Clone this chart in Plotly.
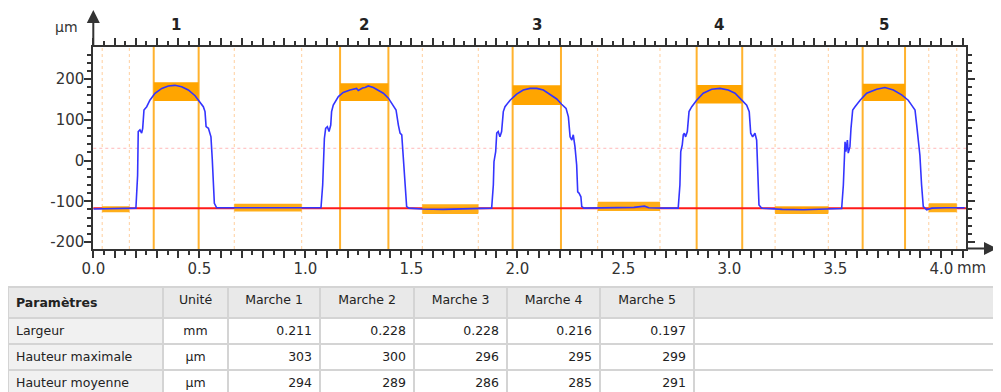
import plotly.graph_objects as go
import numpy as np

# ---------------- data ----------------
# measured profile (mm, µm)
profile_x = [0.000, 0.100, 0.190, 0.201, 0.209, 0.212, 0.220, 0.228, 0.233, 0.239, 0.252, 0.267, 0.291,
             0.323, 0.354, 0.385, 0.417, 0.448, 0.480, 0.503, 0.519, 0.527, 0.532, 0.543, 0.555,
             0.561, 0.566, 0.571, 0.582, 0.700, 0.800, 0.900, 1.000, 1.074,
             1.082, 1.085, 1.090, 1.096, 1.104, 1.112, 1.120, 1.124, 1.132, 1.156, 1.179, 1.211,
             1.242, 1.250, 1.258, 1.270, 1.282, 1.297, 1.321, 1.344, 1.368, 1.392, 1.415, 1.428,
             1.439, 1.447, 1.455, 1.462, 1.470, 1.478, 1.489, 1.550, 1.650, 1.750, 1.879,
             1.887, 1.890, 1.898, 1.903, 1.910, 1.918, 1.926, 1.934, 1.942, 1.966, 1.997, 2.028,
             2.060, 2.092, 2.123, 2.154, 2.186, 2.209, 2.230, 2.241, 2.249, 2.257, 2.264, 2.272,
             2.280, 2.285, 2.291, 2.300, 2.304, 2.315, 2.450, 2.550, 2.600, 2.620, 2.700, 2.759,
             2.767, 2.771, 2.778, 2.783, 2.788, 2.794, 2.802, 2.810, 2.823, 2.846, 2.877, 2.917,
             2.956, 2.995, 3.027, 3.058, 3.082, 3.094, 3.101, 3.110, 3.121, 3.129, 3.134, 3.140,
             3.153, 3.250, 3.350, 3.450, 3.530,
             3.538, 3.542, 3.546, 3.550, 3.557, 3.561, 3.569, 3.574, 3.582, 3.593, 3.617, 3.648,
             3.695, 3.734, 3.774, 3.813, 3.844, 3.860, 3.876, 3.884, 3.892, 3.899, 3.907, 3.915,
             3.931, 3.955, 4.020, 4.110]
profile_y = [-119, -118, -117, -117, -36, 71, 75, 67, 79, 124, 132, 148, 165,
             177, 183, 184.5, 181, 173, 159, 144, 132, 120, 83, 79, 58,
             5, -60, -105, -116, -117, -116, -116, -117, -116,
             -60, 5, 54, 79, 83, 71, 87, 120, 136, 157, 167, 173,
             177, 172, 175, 178, 179, 183, 179, 173, 165, 153, 136, 124,
             87, 67, 63, 13, -60, -113, -117, -119, -120, -119, -117,
             -60, -3, 22, 67, 71, 58, 71, 120, 132, 148, 163, 173,
             177, 177, 173, 163, 151, 138, 128, 107, 58, 50, 63, 34,
             -11, -77, -80, -89, -113, -117, -116, -115, -112, -116, -117, -117,
             -60, 22, 38, 63, 67, 58, 71, 120, 132, 148, 165, 175,
             177, 173, 165, 148, 136, 120, 67, 58, 67, 50, -36, -109,
             -117, -120, -121, -120, -118,
             -60, 5, 46, 22, 50, 18, 34, 79, 124, 132, 148, 165,
             175, 179, 173, 161, 148, 136, 124, 87, 46, 13, -60, -113,
             -121, -117, -116, -116]

# step boundaries (mm) and step bands (µm)
step_left = [0.285, 1.164, 1.978, 2.846, 3.629]
step_right = [0.497, 1.392, 2.206, 3.061, 3.829]
step_band_low = [146, 146, 136, 140, 146]
step_band_high = [192, 189.5, 184.5, 185, 188.5]
step_names = ["1", "2", "3", "4", "5"]

# base reference zones (mm) and bands (µm)
base_left = [0.042, 0.665, 1.552, 2.379, 3.216, 3.941]
base_right = [0.170, 0.983, 1.816, 2.673, 3.467, 4.073]
base_band_low = [-127, -125, -131, -124, -131, -127]
base_band_high = [-112, -106, -107.5, -101, -112, -105]

reference_level = -117
upper_threshold = 30

# ticks
x_tick_values = [round(v, 1) for v in np.arange(0, 4.15, 0.1)]
x_tick_labels = [f"{v:.1f}" if abs(v * 2 - round(v * 2)) < 1e-9 else "" for v in x_tick_values]
y_tick_values = [-200, -100, 0, 100, 200]
y_tick_labels = ["-200", "-100", "0", "100", "200"]

# table
table_header = ["<b>Paramètres</b>", "Unité", "Marche 1", "Marche 2", "Marche 3", "Marche 4", "Marche 5", ""]
param_names = ["Largeur", "Hauteur maximale", "Hauteur moyenne"]
param_units = ["mm", "µm", "µm"]
step_widths = ["0.211", "0.228", "0.228", "0.216", "0.197"]
step_max_heights = ["303", "300", "296", "295", "299"]
step_mean_heights = ["294", "289", "286", "285", "291"]

# ---------------- layout geometry (page pixels) ----------------
W, H = 1001, 392
OFF = 8  # page body margin
PL, PR, PT, PB = 93.3, 966.0, 46.7, 249.0
X_RANGE = [0, 4.1165]
Y_RANGE = [-217.2, 279.3]


def px(x):
    return (x - OFF) / W


def py(y):
    return 1 - (y - OFF) / H


FONT = "DejaVu Sans"
AXIS_COL = "#333333"
ORANGE = "#ffa500"
ORANGE_LINE = "#ffb22e"
ORANGE_DOT = "#ffcf9e"

fig = go.Figure()

shapes = []
for xv in base_left + base_right:
    shapes.append(dict(type="line", xref="x", yref="y domain", x0=xv, x1=xv, y0=0, y1=1,
                       line=dict(color=ORANGE_DOT, width=1, dash="dot"), layer="below"))
shapes.append(dict(type="line", xref="x domain", yref="y", x0=0, x1=1, y0=upper_threshold, y1=upper_threshold,
                   line=dict(color="#ffb8b8", width=1, dash="dot"), layer="below"))
for l, r, lo, hi in zip(base_left, base_right, base_band_low, base_band_high):
    shapes.append(dict(type="rect", xref="x", yref="y", x0=l, x1=r, y0=lo, y1=hi,
                       fillcolor=ORANGE, line=dict(width=0), opacity=0.9, layer="below"))
for l, r, lo, hi in zip(step_left, step_right, step_band_low, step_band_high):
    shapes.append(dict(type="rect", xref="x", yref="y", x0=l, x1=r, y0=lo, y1=hi,
                       fillcolor=ORANGE, line=dict(width=0), layer="below"))
for xv in step_left + step_right:
    shapes.append(dict(type="line", xref="x", yref="y domain", x0=xv, x1=xv, y0=0, y1=1,
                       line=dict(color=ORANGE_LINE, width=2), layer="below"))
shapes.append(dict(type="line", xref="x domain", yref="y", x0=0, x1=1, y0=reference_level, y1=reference_level,
                   line=dict(color="#ff1a1a", width=2), layer="below"))

fig.add_trace(go.Scatter(x=profile_x, y=profile_y, mode="lines",
                         line=dict(color="#3434ff", width=1.6), hoverinfo="skip", showlegend=False))

annotations = []
for l, r, name in zip(step_left, step_right, step_names):
    annotations.append(dict(x=(l + r) / 2, xref="x", y=py(25), yref="paper", text=f"<b>{name}</b>",
                            xanchor="center", yanchor="middle", showarrow=False,
                            font=dict(family=FONT, size=15, color="#222")))
annotations.append(dict(x=px(66.7), y=py(26.5), xref="paper", yref="paper", text="µm", showarrow=False,
                        xanchor="center", yanchor="middle", font=dict(family=FONT, size=14, color=AXIS_COL)))
annotations.append(dict(x=px(971.5), y=py(267.5), xref="paper", yref="paper", text="mm", showarrow=False,
                        xanchor="center", yanchor="middle", font=dict(family=FONT, size=15, color=AXIS_COL)))
annotations.append(dict(x=px(PL), y=py(10), xref="paper", yref="paper", ax=0, ay=PT - 10,
                        axref="pixel", ayref="pixel", showarrow=True, arrowhead=2, arrowsize=1.3,
                        arrowwidth=2, arrowcolor=AXIS_COL, text=""))
annotations.append(dict(x=px(997), y=py(PB - 0.5), xref="paper", yref="paper", ax=-(997 - PR), ay=0,
                        axref="pixel", ayref="pixel", showarrow=True, arrowhead=2, arrowsize=1.3,
                        arrowwidth=2, arrowcolor=AXIS_COL, text=""))

fig.add_trace(go.Table(
    domain=dict(x=[0, px(995)], y=[0, py(287)]),
    columnwidth=[155, 65, 92, 94, 93, 93, 94, 301],
    header=dict(values=table_header, fill_color="#e9e9e9",
                align=["left", "center", "center", "center", "center", "center", "center", "center"],
                font=dict(family=FONT, size=12.5, color="#222"), height=26,
                line=dict(color="#d4d4d4", width=2)),
    cells=dict(values=[param_names, param_units,
                       [step_widths[0], step_max_heights[0], step_mean_heights[0]],
                       [step_widths[1], step_max_heights[1], step_mean_heights[1]],
                       [step_widths[2], step_max_heights[2], step_mean_heights[2]],
                       [step_widths[3], step_max_heights[3], step_mean_heights[3]],
                       [step_widths[4], step_max_heights[4], step_mean_heights[4]],
                       ["", "", ""]],
               fill_color=["#f1f1f1", "white", "white", "white", "white", "white", "white", "white"],
               align=["left", "center", "right", "right", "right", "right", "right", "right"],
               font=dict(family=FONT, size=12.5, color="#222"), height=26,
               line=dict(color="#d4d4d4", width=2)),
))

fig.update_layout(
    width=W, height=H, margin=dict(l=0, r=0, t=0, b=0, autoexpand=False),
    paper_bgcolor="white", plot_bgcolor="white",
    shapes=shapes, annotations=annotations, showlegend=False,
    xaxis=dict(domain=[px(PL), px(PR)], range=X_RANGE, tickmode="array", tickvals=x_tick_values,
               ticktext=x_tick_labels, ticks="outside", ticklen=7, tickwidth=1.5, tickcolor=AXIS_COL,
               minor=dict(dtick=0.05, tick0=0, ticks="outside", ticklen=4, tickwidth=1.5, tickcolor=AXIS_COL),
               showline=True, linecolor=AXIS_COL, linewidth=2, mirror="ticks", showgrid=False, zeroline=False,
               automargin=False, ticklabelstandoff=-2, tickfont=dict(family=FONT, size=15, color=AXIS_COL)),
    yaxis=dict(domain=[py(PB), py(PT)], range=Y_RANGE, tickmode="array", tickvals=y_tick_values,
               ticktext=y_tick_labels, ticks="outside", ticklen=7, tickwidth=1.5, tickcolor=AXIS_COL,
               minor=dict(dtick=20, tick0=0, ticks="outside", ticklen=4, tickwidth=1.5, tickcolor=AXIS_COL),
               showline=True, linecolor=AXIS_COL, linewidth=2, mirror="ticks", showgrid=False, zeroline=False,
               automargin=False, ticklabelstandoff=-3, tickfont=dict(family=FONT, size=15, color=AXIS_COL)),
)

fig.write_html("out.html")
